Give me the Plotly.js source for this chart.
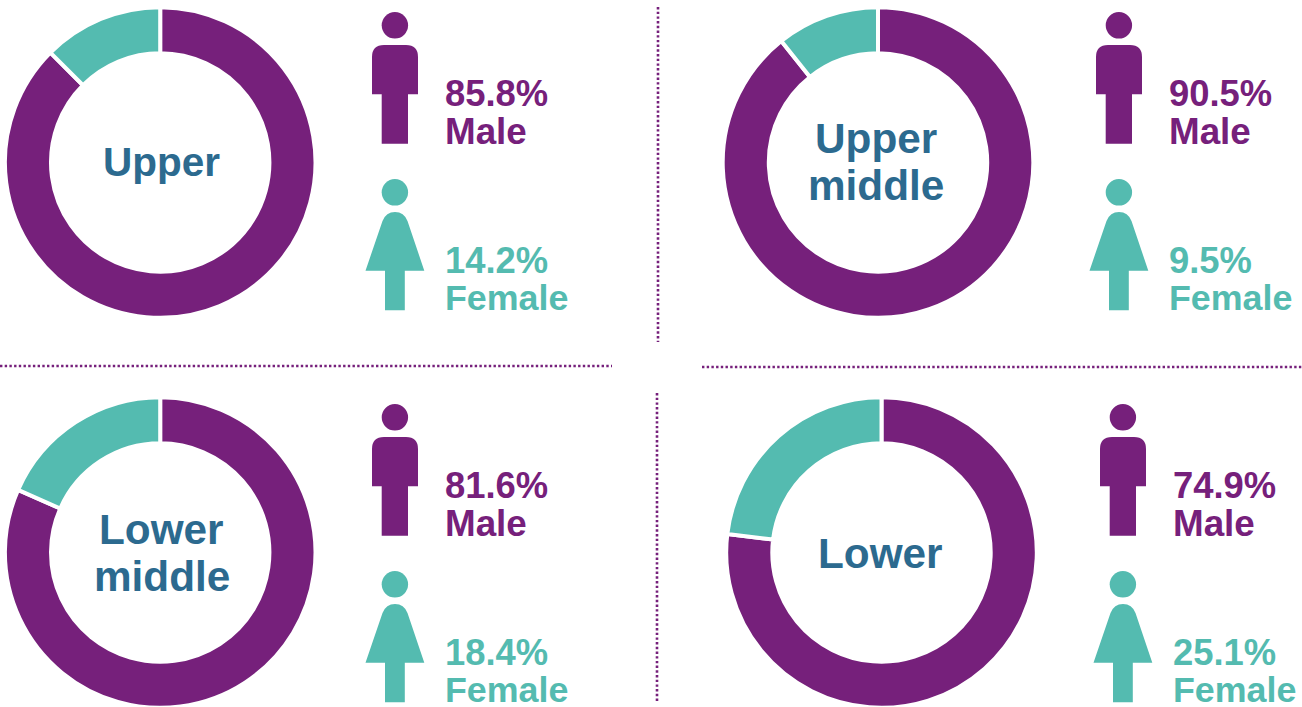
<!DOCTYPE html>
<html><head><meta charset="utf-8">
<script src="https://cdn.plot.ly/plotly-3.0.1.min.js"></script>
<style>html,body{margin:0;padding:0;background:#fff;overflow:hidden;height:707px}#c{width:1302px;height:760px}</style>
</head><body><div id="c"></div>
<script>
const groups = ["Upper", "Upper middle", "Lower middle", "Lower"];
const groupLines = [["Upper"], ["Upper", "middle"], ["Lower", "middle"], ["Lower"]];
const malePct = [85.8, 90.5, 81.6, 74.9];
const femalePct = [14.2, 9.5, 18.4, 25.1];
const maleRing = [87.5, 89.3, 81.6, 76.9];
const femaleRing = [12.5, 10.7, 18.4, 23.1];

const PURPLE = "#76207b", TEAL = "#54bbb0", BLUE = "#2c6a8f";
const W = 1302, H = 760;
const FONT = '"Liberation Sans", Arial, sans-serif';
const centers = [[160.2,162.5],[878,162.5],[160.2,552.5],[881.5,552.5]];
const iconOffsets = [[0,0],[724,0],[0,392],[728,392]];
const labelX = [161.5,876,161.5,880];
const labelY = [161.7,162.3,553,553.5];
const labelSize = [40.5,42.3,42.3,42.3];
const R = 155.3, HOLE = 109.2/155.3;

const data = groups.map((g,i)=>{
  const [cx,cy]=centers[i];
  return {type:"pie",name:g,labels:["Male","Female"],values:[maleRing[i],femaleRing[i]],
    sort:false,direction:"clockwise",rotation:0,hole:HOLE,textinfo:"none",hoverinfo:"label+percent",
    marker:{colors:[PURPLE,TEAL],line:{color:"#fff",width:4}},
    domain:{x:[(cx-R)/W,(cx+R)/W],y:[1-(cy+R)/H,1-(cy-R)/H]}};
});

function circle(x,y,r,c){return {type:"circle",xref:"x",yref:"y",x0:x-r,x1:x+r,y0:y-r,y1:y+r,fillcolor:c,line:{width:0}};}
function path(d,c){return {type:"path",xref:"x",yref:"y",path:d,fillcolor:c,line:{width:0}};}
const shapes=[], annotations=[];
function txt(x,y,t,c,size,anchor){annotations.push({xref:"x",yref:"y",x:x,y:y,text:t,showarrow:false,xanchor:anchor,yanchor:"middle",align:anchor,
  font:{family:FONT,size:size,color:c,weight:700},borderpad:0});}
groups.forEach((g,i)=>{
  const [ox,oy]=iconOffsets[i];
  const X=v=>v+ox, Y=v=>v+oy;
  shapes.push(circle(X(394.9),Y(25.3),13.2,PURPLE));
  shapes.push(path(`M ${X(372)} ${Y(57)} Q ${X(372)} ${Y(45)} ${X(384)} ${Y(45)} L ${X(406)} ${Y(45)} Q ${X(418)} ${Y(45)} ${X(418)} ${Y(57)} L ${X(418)} ${Y(94.3)} L ${X(408)} ${Y(94.3)} L ${X(408)} ${Y(143.7)} L ${X(381.7)} ${Y(143.7)} L ${X(381.7)} ${Y(94.3)} L ${X(372)} ${Y(94.3)} Z`,PURPLE));
  shapes.push(circle(X(394.9),Y(192.3),13.2,TEAL));
  shapes.push(path(`M ${X(382.5)} ${Y(221)} Q ${X(386)} ${Y(212)} ${X(395)} ${Y(212)} Q ${X(404)} ${Y(212)} ${X(407.5)} ${Y(221)} L ${X(424.3)} ${Y(270.7)} L ${X(404.8)} ${Y(270.7)} L ${X(404.8)} ${Y(310.3)} L ${X(385)} ${Y(310.3)} L ${X(385)} ${Y(270.7)} L ${X(365.5)} ${Y(270.7)} Z`,TEAL));
  const tx=X(444);
  txt(tx,Y(93),malePct[i].toFixed(1)+"%",PURPLE,36.4,"left");
  txt(tx,Y(131),"Male",PURPLE,36.8,"left");
  txt(tx,Y(260),femalePct[i].toFixed(1)+"%",TEAL,36.4,"left");
  txt(tx,Y(298),"Female",TEAL,35.8,"left");
  const lines=groupLines[i];
  lines.forEach((l,k)=>{
    const yy = lines.length==1 ? labelY[i] : labelY[i] + (k==0?-23.5:23.5);
    txt(labelX[i],yy,l,BLUE,labelSize[i],"center");
  });
});
function dots(x0,y0,x1,y1){shapes.push({type:"line",xref:"x",yref:"y",x0,y0,x1,y1,line:{color:PURPLE,width:2.6,dash:"2.4px,2.3px"}});}
dots(658,7,658,342);
dots(657,393,657,703);
dots(0,366,612,366);
dots(702,367,1302,367);

Plotly.newPlot("c",data,{
  width:W,height:H,margin:{l:0,r:0,t:0,b:0},showlegend:false,paper_bgcolor:"#fff",plot_bgcolor:"rgba(0,0,0,0)",
  xaxis:{range:[0,W],visible:false,fixedrange:true},
  yaxis:{range:[H,0],visible:false,fixedrange:true},
  shapes,annotations
},{displayModeBar:false,staticPlot:true});
</script></body></html>
